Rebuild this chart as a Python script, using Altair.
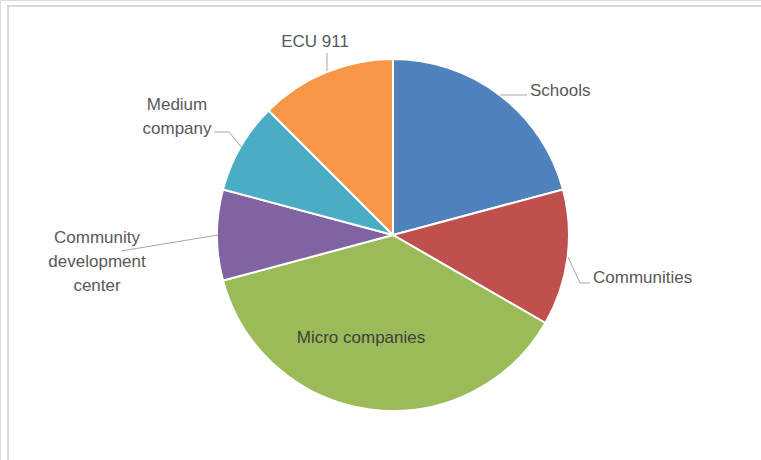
import altair as alt
import pandas as pd

# ---- data ----
categories = ["Schools", "Communities", "Micro companies",
              "Community development center", "Medium company", "ECU 911"]
values = [5, 3, 9, 2, 2, 3]
colors = ["#4F81BD", "#C0504D", "#9BBB59", "#8064A2", "#4BACC6", "#F79646"]

df = pd.DataFrame({"category": categories, "value": values,
                   "order": list(range(len(categories)))})

# ---- layout (annotation positions, pixels) ----
CX, CY, R = 393, 235, 176

label_text = ["Schools", "Communities", "Micro companies",
              "Community\ndevelopment\ncenter", "Medium\ncompany", "ECU 911"]
label_x = [530, 593, 361, 97, 177, 315]
label_y = [91, 278, 338, 238, 105, 42]
label_align = ["left", "left", "center", "center", "center", "center"]
label_color = ["#595959", "#595959", "#404040", "#595959", "#595959", "#595959"]

leaders = {
    "Schools": [(500, 95), (527, 95)],
    "Communities": [(568, 257), (580, 283), (590, 283)],
    "Community development center": [(121, 251), (218, 235)],
    "Medium company": [(214, 132), (229, 132), (242, 148)],
    "ECU 911": [(327, 53), (327, 71)],
}

lab_df = pd.DataFrame({"text": label_text, "x": label_x, "y": label_y,
                       "align": label_align, "color": label_color})
rows = []
for k, pts in leaders.items():
    for i, (x, y) in enumerate(pts):
        rows.append({"name": k, "i": i, "x": x, "y": y})
lead_df = pd.DataFrame(rows)

W, H = 761, 460

frame_top = alt.Chart(pd.DataFrame({"a": [0]})).mark_rule(
    color="#D9D9D9", strokeWidth=2).encode(
    x=alt.value(8), x2=alt.value(W), y=alt.value(6), y2=alt.value(6))
frame_left = alt.Chart(pd.DataFrame({"a": [0]})).mark_rule(
    color="#D9D9D9", strokeWidth=2).encode(
    x=alt.value(8), x2=alt.value(8), y=alt.value(5), y2=alt.value(H))

pie = alt.Chart(df).mark_arc(outerRadius=R, stroke="white", strokeWidth=2).encode(
    theta=alt.Theta("value:Q", stack=True),
    order=alt.Order("order:Q", sort="ascending"),
    color=alt.Color("category:N", scale=alt.Scale(domain=categories, range=colors),
                    legend=None),
    x=alt.value(CX), y=alt.value(CY),
)

lines = alt.Chart(lead_df).mark_line(color="#A6A6A6", strokeWidth=1).encode(
    x=alt.X("x:Q", scale=None), y=alt.Y("y:Q", scale=None),
    detail="name:N", order="i:Q")

texts = []
for al in ["left", "center"]:
    sub = lab_df[lab_df["align"] == al]
    texts.append(alt.Chart(sub).mark_text(
        align=al, baseline="middle", font="Liberation Sans", fontSize=17,
        lineBreak="\n", lineHeight=24).encode(
        x=alt.X("x:Q", scale=None), y=alt.Y("y:Q", scale=None),
        text="text:N", color=alt.Color("color:N", scale=None)))

chart = alt.layer(frame_top, frame_left, pie, lines, *texts).properties(
    width=W, height=H, padding=0,
    autosize=alt.AutoSizeParams(type="none"),
).configure_view(stroke=None).configure(background="white")

chart.save("out.html", embed_options={"renderer": "svg", "actions": False})
